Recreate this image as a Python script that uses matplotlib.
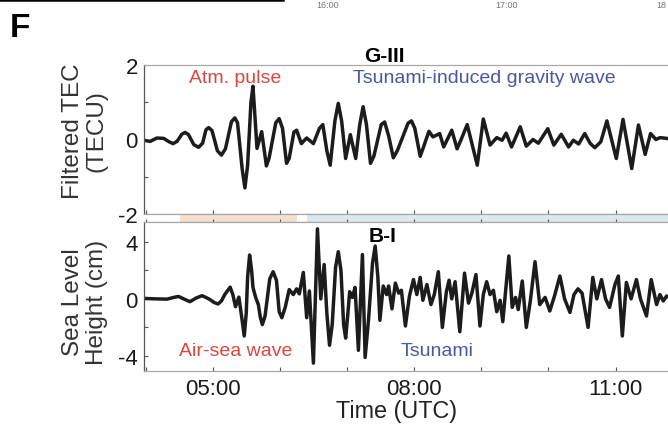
import matplotlib
matplotlib.use('Agg')
import matplotlib.pyplot as plt
from matplotlib.lines import Line2D

plt.rcParams['font.family'] = ['Liberation Sans', 'DejaVu Sans']
plt.rcParams['axes.unicode_minus'] = False

# filtered TEC over G-III (hours UTC, TECU)
tec_time = [3.97, 4.07, 4.17, 4.27, 4.35, 4.41, 4.47, 4.54, 4.59, 4.64, 4.72, 4.79, 4.85, 4.90, 4.94,
            4.99, 5.07, 5.13, 5.19, 5.28, 5.33, 5.37, 5.44, 5.48, 5.52, 5.57, 5.60, 5.63, 5.66, 5.73,
            5.80, 5.84, 5.94, 5.99, 6.04, 6.10, 6.14, 6.21, 6.25, 6.32, 6.40, 6.50, 6.59, 6.64, 6.70,
            6.75, 6.82, 6.87, 6.92, 6.98, 7.05, 7.13, 7.19, 7.24, 7.29, 7.35, 7.40, 7.51, 7.56, 7.62,
            7.69, 7.75, 7.91, 7.96, 8.01, 8.09, 8.14, 8.22, 8.28, 8.38, 8.44, 8.56, 8.64, 8.70, 8.79,
            8.94, 9.03, 9.13, 9.23, 9.31, 9.37, 9.45, 9.58, 9.67, 9.77, 9.85, 9.99, 10.08, 10.19, 10.30,
            10.37, 10.45, 10.54, 10.62, 10.69, 10.78, 10.87, 11.01, 11.11, 11.24, 11.34, 11.44, 11.52, 11.60,
            11.66, 11.76, 11.84]
tec_value = [-0.02, -0.05, 0.04, 0.03, -0.06, -0.11, -0.05, 0.14, 0.19, 0.13, -0.14, -0.21, -0.10, 0.26, 0.32,
             0.24, -0.30, -0.42, -0.25, 0.48, 0.58, 0.45, -0.80, -1.30, -0.70, 1.00, 1.43, 0.60, -0.24, 0.21,
             -0.71, -0.50, 0.45, 0.56, 0.30, -0.64, -0.50, 0.20, 0.25, -0.11, 0.04, -0.11, 0.30, 0.40, -0.30,
             -0.69, 0.50, 0.97, 0.50, -0.51, 0.13, -0.51, 0.40, 0.88, 0.40, -0.64, -0.45, 0.40, 0.47, 0.10,
             -0.49, -0.30, 0.44, 0.50, 0.30, -0.45, -0.20, 0.22, 0.07, 0.16, -0.20, 0.25, -0.25, 0.00, 0.40,
             -0.69, 0.55, -0.15, 0.05, -0.02, 0.17, -0.20, 0.34, -0.18, 0.00, -0.10, 0.29, -0.15, 0.14, -0.20,
             -0.02, -0.12, 0.16, -0.10, -0.22, -0.06, 0.50, -0.51, 0.54, -0.78, 0.39, -0.40, 0.16, 0.00,
             0.05, 0.03, 0.00]

# sea level at B-I (hours UTC, cm)
sea_time = [3.97, 4.14, 4.32, 4.42, 4.49, 4.56, 4.66, 4.75, 4.84, 4.90, 4.96, 5.02, 5.08, 5.13, 5.18,
            5.26, 5.30, 5.34, 5.39, 5.43, 5.47, 5.50, 5.52, 5.55, 5.58, 5.60, 5.64, 5.68, 5.71, 5.74,
            5.78, 5.85, 5.90, 5.95, 5.99, 6.03, 6.08, 6.14, 6.20, 6.25, 6.29, 6.35, 6.40, 6.44, 6.50,
            6.56, 6.61, 6.66, 6.70, 6.74, 6.78, 6.83, 6.87, 6.91, 6.95, 6.98, 7.01, 7.04, 7.08, 7.12,
            7.17, 7.23, 7.27, 7.32, 7.38, 7.42, 7.46, 7.49, 7.54, 7.59, 7.62, 7.67, 7.72, 7.77, 7.81,
            7.87, 7.93, 7.99, 8.04, 8.09, 8.13, 8.19, 8.25, 8.30, 8.36, 8.42, 8.48, 8.52, 8.56, 8.61,
            8.68, 8.75, 8.81, 8.86, 8.92, 8.98, 9.03, 9.08, 9.13, 9.18, 9.23, 9.28, 9.32, 9.37, 9.41,
            9.46, 9.51, 9.55, 9.61, 9.67, 9.73, 9.80, 9.87, 9.95, 10.02, 10.09, 10.17, 10.24, 10.32, 10.38,
            10.44, 10.50, 10.59, 10.66, 10.72, 10.79, 10.85, 10.91, 10.99, 11.04, 11.10, 11.16, 11.23, 11.31, 11.37,
            11.46, 11.53, 11.61, 11.66, 11.71, 11.76, 11.84]
sea_value = [0.03, 0.0, -0.02, 0.10, 0.17, 0.02, -0.2, 0.05, 0.22, 0.10, -0.05, -0.25, -0.36, -0.15, 0.3,
             0.82, 0.30, -0.55, 0.12, -1.2, -2.6, -1.0, 1.5, 3.07, 2.0, 0.8, 0.1, -0.4, -1.3, -1.8,
             -1.2, 1.4, 1.9, 1.3, -0.9, -1.32, -0.6, 0.65, 0.3, 0.7, 0.35, 1.85, -1.32, 0.55, -4.5,
             4.9, 0.0, 2.4, -1.0, -3.25, -1.8, 2.2, 3.3, 2.0, -1.8, -2.75, -1.2, 0.5, 0.1, 0.8,
             -3.6, 3.1, -4.1, -1.5, 2.5, 3.7, 1.5, -1.5, 0.9, 0.3, 0.9, -0.7, 1.1, 0.4, 0.6,
             -1.9, 0.2, 1.35, 0.3, 1.5, -0.1, 1.0, -0.4, 0.3, 1.9, -2.0, 0.5, 1.3, 0.0, 1.2,
             -2.3, 1.8, -0.3, 0.4, 1.7, -1.9, 0.3, 1.2, 0.3, 0.6, -0.9, -0.1, -1.6, 1.0, 3.0,
             -0.6, 0.1, -0.75, 1.25, -2.0, -0.15, 2.6, -0.4, 0.1, -0.85, 0.2, 1.6, 0.0, -0.95, 0.3,
             0.7, 0.4, -2.0, 1.5, 0.0, 1.35, 0.0, -0.6, 1.0, 1.6, -2.6, 1.15, 0.0, 1.35, 0.0,
             -1.2, 1.35, -0.4, 0.3, -0.15, 0.2, 0.0]

hour_major = [5, 8, 11]
hour_labels = ['05:00', '08:00', '11:00']
hour_minor = [4, 6, 7, 9, 10]
pulse_span = (4.51, 6.25)
tsunami_span = (6.40, 11.9)
xlim = (3.97, 11.78)

red = '#d9473d'
blue = '#4b58a0'
line_col = '#1c1c1c'
narrow = ['Liberation Sans Narrow', 'Liberation Sans']

fig = plt.figure(figsize=(6.68, 4.27), dpi=100)
W, H = 668.0, 427.0


def box(x0, y0, x1, y1):
    # pixel box (top-left origin) -> figure fraction rect
    return [x0 / W, 1 - y1 / H, (x1 - x0) / W, (y1 - y0) / H]


ax1 = fig.add_axes(box(143.5, 66, 668, 215))
strip = fig.add_axes(box(143.5, 215, 668, 222.7))
ax2 = fig.add_axes(box(143.5, 222.7, 668, 372))

ax1.plot(tec_time, tec_value, color=line_col, lw=2.5, solid_joinstyle='round')
ax2.plot(sea_time, sea_value, color=line_col, lw=2.5, solid_joinstyle='round')

ax1.set_ylim(-2, 2)
ax1.set_yticks([-2, 0, 2])
ax1.set_yticks([-1, 1], minor=True)
ax2.set_ylim(-5.05, 5.4)
ax2.set_yticks([-4, 0, 4])
ax2.set_yticks([-2, 2], minor=True)

for ax in (ax1, strip, ax2):
    ax.set_xlim(*xlim)
    ax.spines['right'].set_visible(False)
    ax.spines['top'].set_color('#a8a8a8')
    ax.spines['bottom'].set_color('#a8a8a8')
    ax.spines['left'].set_color('#555555')
    for s in ax.spines.values():
        s.set_linewidth(0.9)
    ax.tick_params(which='both', direction='in', length=3, width=0.8, color='#555555',
                   labelsize=16, labelcolor='#1a1a1a', pad=4)
    ax.set_xticks(hour_major)
    ax.set_xticks(hour_minor, minor=True)
    ax.set_xticklabels([])

ax2.set_xticklabels(hour_labels)
ax2.tick_params(axis='x', pad=5)

strip.set_yticks([])
strip.spines['left'].set_visible(False)
strip.tick_params(axis='x', which='both', length=2, top=False)
strip.axvspan(*pulse_span, color='#f7dfcd', lw=0)
strip.axvspan(*tsunami_span, color='#dce7f0', lw=0)

ax1.text(5.33, 1.66, 'Atm. pulse', color=red, fontsize=14, ha='center', va='center')
ax1.text(9.05, 1.66, 'Tsunami-induced gravity wave', color=blue, fontsize=14, ha='center', va='center')
ax2.text(5.35, -3.6, 'Air-sea wave', color=red, fontsize=14, ha='center', va='center')
ax2.text(8.34, -3.6, 'Tsunami', color=blue, fontsize=14, ha='center', va='center')

ax1.text(7.56, 2.25, 'G-III', fontsize=15, fontweight='bold', ha='center', va='center',
         family=narrow, clip_on=False)
ax2.text(7.53, 4.43, 'B-I', fontsize=15, fontweight='bold', ha='center', va='center', family=narrow)

fig.text(85 / W, 1 - 131 / H, 'Filtered TEC\n(TECU)', rotation=90, fontsize=17.5, color='#333333',
         ha='center', va='center', multialignment='center', linespacing=1.1)
fig.text(85 / W, 1 - 302 / H, 'Sea Level\nHeight (cm)', rotation=90, fontsize=17.5, color='#333333',
         ha='center', va='center', multialignment='center', linespacing=1.1)
fig.text(397 / W, 1 - 412 / H, 'Time (UTC)', fontsize=16.8, color='#222222', ha='center', va='center')

fig.text(10 / W, 1 - 37 / H, 'F', fontsize=24, fontweight='bold', ha='left', va='baseline', family=narrow)

# leftover edge of the panel above
fig.add_artist(Line2D([0, 283 / W], [1 - 1.2 / H, 1 - 1.2 / H], color='black', lw=1.8))
for x, s, ha in [(328, '16:00', 'center'), (507, '17:00', 'center'), (656, '18', 'left')]:
    fig.text(x / W, 1 - 6 / H, s, fontsize=6.5, color='#777777', ha=ha, va='center')

fig.savefig('out.png', dpi=100)
